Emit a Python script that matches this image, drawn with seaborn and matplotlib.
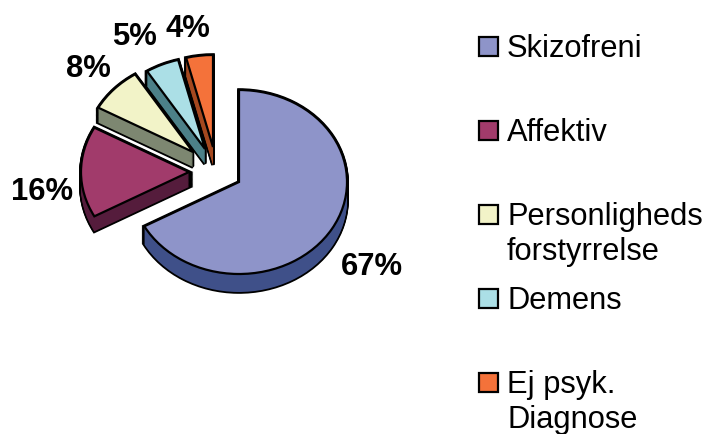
import numpy as np
import matplotlib
matplotlib.use('Agg')
import matplotlib.pyplot as plt
from matplotlib.patches import Rectangle
import seaborn as sns

# data
labels = ['Skizofreni', 'Affektiv', 'Personligheds\nforstyrrelse', 'Demens', 'Ej psyk.\nDiagnose']
shares = [67, 16, 8, 5, 4]

# colours, top face and side wall
top_colors = ['#8E94C9', '#A13B6B', '#F2F3C8', '#ABDFE6', '#F4723A']
wall_colors = ['#3F5089', '#551C3C', '#7D8771', '#4C8088', '#A5481F']

# layout in pixels of the 710x435 picture
cx, cy = 239, 183
rx, ry = 108, 92
depth = [18, 15, 15, 15, 18]
apex = [(239, 183), (189, 173), (193, 153), (205, 150), (213, 148)]
label_pos = [(372, 267), (42, 192), (88, 69), (135, 37), (188, 29)]
legend_y = [48, 132, 216, 300, 384]
line_gap = 35

sns.set_theme(style='white')
plt.rcParams['font.family'] = ['Liberation Sans', 'DejaVu Sans']

fig = plt.figure(figsize=(7.1, 4.35), dpi=100)
ax = fig.add_axes([0, 0, 1, 1])


def slice_layer(colors, offset, z, **wedgeprops):
    # one whole pie, then every wedge is moved to its own apex
    wedges, _ = ax.pie(shares, colors=colors, startangle=90, counterclock=False,
                       radius=1, wedgeprops=wedgeprops)
    for i, w in enumerate(wedges):
        x = (apex[i][0] - cx) / rx
        y = -(apex[i][1] + offset * depth[i] - cy) / ry
        w.set_center((x, y))
        w.set_zorder(i * 10 + z)
        w.set_joinstyle('miter')
    return wedges


# wall: thick black pass gives the outline, dark pass fills it
for off in np.linspace(0, 1, 19):
    slice_layer(['black'] * 5, off, 1, edgecolor='black', linewidth=2.6)
for off in np.linspace(0, 1, 19):
    slice_layer(wall_colors, off, 2, edgecolor='none', linewidth=0)
slice_layer(top_colors, 0, 3, edgecolor='black', linewidth=1.6)

ax.set_aspect('auto')
ax.set_xlim(-cx / rx, (710 - cx) / rx)
ax.set_ylim(-(435 - cy) / ry, cy / ry)
ax.axis('off')

for (x, y), s in zip(label_pos, shares):
    fig.text(x / 710, 1 - y / 435, f'{s}%', ha='center', va='center',
             fontsize=22.3, fontweight='bold', color='black')

for y, name, col in zip(legend_y, labels, top_colors):
    fig.add_artist(Rectangle((479 / 710, 1 - (y + 9) / 435), 19 / 710, 19 / 435,
                             transform=fig.transFigure, facecolor=col,
                             edgecolor='black', linewidth=1.6))
    for k, line in enumerate(name.split('\n')):
        fig.text(507 / 710, 1 - (y + 9 + k * line_gap) / 435, line, ha='left',
                 va='baseline', fontsize=22.2, color='black')

fig.savefig('out.png', dpi=100)
